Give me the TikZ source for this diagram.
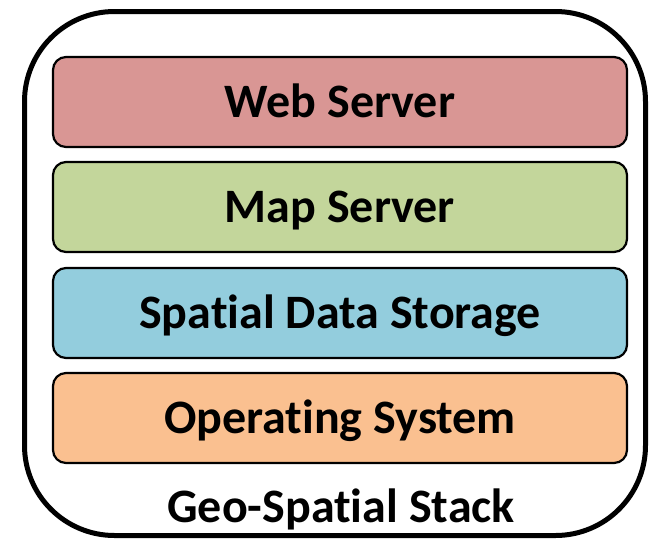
\documentclass[tikz,border=0pt]{standalone}
\usepackage{fontspec}
\setmainfont{Carlito}[RawFeature={-liga;-clig;-dlig}]
\definecolor{webc}{HTML}{D99694}
\definecolor{mapc}{HTML}{C3D69B}
\definecolor{spac}{HTML}{93CDDD}
\definecolor{osc}{HTML}{FAC090}
\tikzset{
  layer/.style={draw=black, line width=2.2pt, rounded corners=13pt, minimum width=574pt, minimum height=90pt, inner sep=0pt, text height=30pt, text depth=0pt, font=\fontsize{48}{56}\selectfont\bfseries},
  outer/.style={draw=black, line width=5pt, rounded corners=90pt}
}
\begin{document}
\begin{tikzpicture}[x=1pt,y=-1pt]
\useasboundingbox (0,0) rectangle (649,539);
\draw[outer] (24.5,11.5) rectangle (645.5,535.5);
\node[layer, fill=webc] (web) at (340,102) {Web Server};
\node[layer, fill=mapc] (map) at (340,207) {Map Server};
\node[layer, fill=spac] (spa) at (340,313) {Spatial Data Storage};
\node[layer, fill=osc] (os) at (340,418) {Operating System};
\node[font=\fontsize{48}{56}\selectfont\bfseries, anchor=base, inner sep=0pt] (lbl) at (341,522) {Geo-Spatial Stack};
\end{tikzpicture}
\end{document}
